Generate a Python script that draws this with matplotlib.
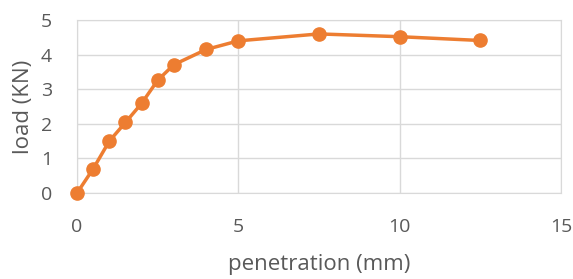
import matplotlib
matplotlib.use('Agg')
import matplotlib.pyplot as plt

# penetration (mm) vs load (KN)
penetration = [0, 0.5, 1, 1.5, 2, 2.5, 3, 4, 5, 7.5, 10, 12.5]
load = [0, 0.70, 1.50, 2.04, 2.59, 3.26, 3.71, 4.15, 4.40, 4.60, 4.52, 4.41]

plt.rcParams['font.family'] = ['Open Sans', 'DejaVu Sans']

fig = plt.figure(figsize=(5.73, 2.79), dpi=100)
ax = fig.add_axes([0.1344, 0.308, 0.8447, 0.620])

ax.plot(penetration, load, color='#ED7D31', linewidth=2.5, marker='o',
        markersize=9.5, zorder=3, clip_on=False)

ax.set_xlim(0, 15)
ax.set_ylim(0, 5)
ax.set_xticks([0, 5, 10, 15])
ax.set_yticks([0, 1, 2, 3, 4, 5])
ax.grid(True, color='#D9D9D9', linewidth=1)
ax.set_axisbelow(True)
for s in ax.spines.values():
    s.set_color('#D9D9D9')
ax.tick_params(length=0, labelsize=14, colors='#595959')
ax.tick_params(axis='x', pad=18)
ax.tick_params(axis='y', pad=18)

ax.set_xlabel('penetration (mm)', fontsize=16, color='#595959', labelpad=13)
ax.set_ylabel('load (KN)', fontsize=16, color='#595959', labelpad=5)

fig.savefig('out.png', dpi=100)
